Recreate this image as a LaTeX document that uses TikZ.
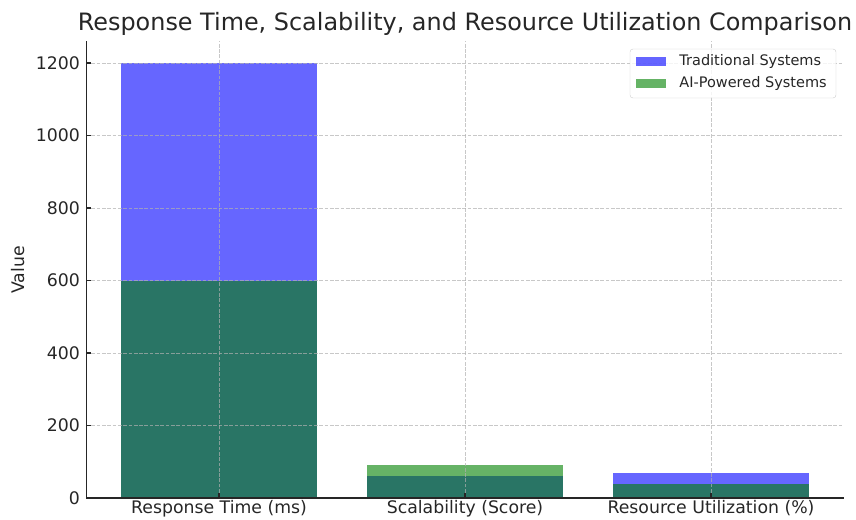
\documentclass[tikz,border=0pt]{standalone}
\usepackage{fontspec}
\setmainfont{DejaVu Sans}
\usepackage{tikz}
\usetikzlibrary{positioning}
\definecolor{tradBlue}{RGB}{0,0,255}
\definecolor{aiGreen}{RGB}{0,128,0}
\definecolor{gridGray}{RGB}{176,176,176}
\definecolor{axisDark}{RGB}{38,38,38}
\definecolor{legendGray}{RGB}{204,204,204}

\begin{document}
\begin{tikzpicture}[x=1pt,y=-1pt,
    tradbar/.style={fill=tradBlue, fill opacity=0.6},
    aibar/.style={fill=aiGreen, fill opacity=0.6},
    gridline/.style={gridGray, line width=0.9pt, dash pattern=on 3.7pt off 1.6pt, opacity=0.7},
    spine/.style={axisDark, line width=1.3pt},
    ticklabel/.style={font=\fontsize{17.3}{20}\selectfont, text=axisDark, inner sep=0pt},
    legpatch/.style={minimum width=30pt, minimum height=9pt, inner sep=0pt, fill opacity=0.6},
    legtext/.style={font=\fontsize{14.5}{17}\selectfont, text=axisDark, inner sep=0pt, anchor=west}]
  \useasboundingbox (0,0) rectangle (856,519);

  % title and axis label
  \node[anchor=base, font=\fontsize{23.9}{28}\selectfont, text=axisDark] (title) at (465,31)
    {Response Time, Scalability, and Resource Utilization Comparison};
  \node[rotate=90, anchor=base, ticklabel] (ylabel) at (24,270) {Value};

  % data part: x in categories, y in values
  \begin{scope}[shift={(219,498)}, x=246pt, y=0.3625pt]
    % bars
    \foreach \i/\trad/\ai in {0/1200/600, 1/60/90, 2/70/40} {
      \fill[tradbar] (\i-0.4,0) rectangle (\i+0.4,\trad);
      \fill[aibar] (\i-0.4,0) rectangle (\i+0.4,\ai);
    }
    % grid
    \foreach \v in {0,200,...,1200}
      \draw[gridline] (-0.54,\v) -- (2.54,\v);
    \foreach \i in {0,1,2}
      \draw[gridline] (\i,0) -- (\i,1260);
    % spines
    \draw[spine] (-0.54,1260) -- (-0.54,0) -- (2.54,0);
    % y ticks
    \foreach \v in {0,200,...,1200} {
      \draw[spine] (-0.54,\v) -- ++(5pt,0);
      \node[ticklabel, anchor=east, xshift=-6pt] (ytick\v) at (-0.54,\v) {\v};
    }
    % x ticks
    \foreach \i/\lab in {0/Response Time (ms), 1/Scalability (Score), 2/Resource Utilization (\%)} {
      \draw[spine] (\i,0) -- ++(0,5pt);
      \node[ticklabel, anchor=base, yshift=-15pt] (xtick\i) at (\i,0) {\lab};
    }
  \end{scope}

  % legend
  \draw[legendGray, fill=white, fill opacity=0.8, rounded corners=3pt] (630,49) rectangle (836,98);
  \node[legpatch, fill=tradBlue] (legtrad) at (651,61.5) {};
  \node[legpatch, fill=aiGreen] (legai) at (651,83) {};
  \node[legtext, right=13pt of legtrad] (legtradtext) {Traditional Systems};
  \node[legtext, right=13pt of legai] (legaitext) {AI-Powered Systems};
\end{tikzpicture}
\end{document}
